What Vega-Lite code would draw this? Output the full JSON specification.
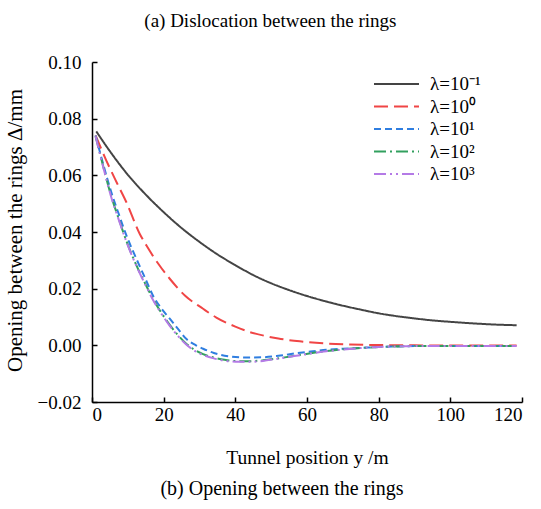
{
  "$schema": "https://vega.github.io/schema/vega-lite/v6.json",
  "padding": {"left": 4, "top": 12, "right": 5, "bottom": 5},
  "background": "white",
  "title": {"text": "(a) Dislocation between the rings", "font": "Liberation Serif", "fontSize": 19, "fontWeight": "normal", "color": "black", "anchor": "middle", "offset": 22, "dx": 7},
  "config": {
    "view": {"stroke": null}
  },
  "vconcat": [
    {
      "width": 430,
      "height": 340,
      "title": {"text": "(b) Opening between the rings", "orient": "bottom", "font": "Liberation Serif", "fontSize": 20, "fontWeight": "normal", "color": "black", "anchor": "middle", "dx": -25, "offset": 12},
      "data": {"values": [
        {"s": "λ=10⁻¹", "y": 1.2, "v": 0.0755}, {"s": "λ=10⁻¹", "y": 5, "v": 0.0685}, {"s": "λ=10⁻¹", "y": 10, "v": 0.0602}, {"s": "λ=10⁻¹", "y": 15, "v": 0.0532}, {"s": "λ=10⁻¹", "y": 20, "v": 0.047}, {"s": "λ=10⁻¹", "y": 25, "v": 0.0414}, {"s": "λ=10⁻¹", "y": 30, "v": 0.0365}, {"s": "λ=10⁻¹", "y": 35, "v": 0.0321}, {"s": "λ=10⁻¹", "y": 40, "v": 0.0283}, {"s": "λ=10⁻¹", "y": 45, "v": 0.0248}, {"s": "λ=10⁻¹", "y": 50, "v": 0.0219}, {"s": "λ=10⁻¹", "y": 55, "v": 0.0195}, {"s": "λ=10⁻¹", "y": 60, "v": 0.0174}, {"s": "λ=10⁻¹", "y": 65, "v": 0.0156}, {"s": "λ=10⁻¹", "y": 70, "v": 0.014}, {"s": "λ=10⁻¹", "y": 75, "v": 0.0126}, {"s": "λ=10⁻¹", "y": 80, "v": 0.0113}, {"s": "λ=10⁻¹", "y": 85, "v": 0.0103}, {"s": "λ=10⁻¹", "y": 90, "v": 0.0095}, {"s": "λ=10⁻¹", "y": 95, "v": 0.0088}, {"s": "λ=10⁻¹", "y": 100, "v": 0.0083}, {"s": "λ=10⁻¹", "y": 107, "v": 0.0077}, {"s": "λ=10⁻¹", "y": 113, "v": 0.0073}, {"s": "λ=10⁻¹", "y": 118.5, "v": 0.0071},
        {"s": "λ=10⁰", "y": 1, "v": 0.0741}, {"s": "λ=10⁰", "y": 4, "v": 0.0652}, {"s": "λ=10⁰", "y": 7, "v": 0.0572}, {"s": "λ=10⁰", "y": 9.6, "v": 0.0505}, {"s": "λ=10⁰", "y": 13.3, "v": 0.0394}, {"s": "λ=10⁰", "y": 15.2, "v": 0.0352}, {"s": "λ=10⁰", "y": 18.5, "v": 0.0288}, {"s": "λ=10⁰", "y": 21.7, "v": 0.0235}, {"s": "λ=10⁰", "y": 26, "v": 0.0175}, {"s": "λ=10⁰", "y": 31, "v": 0.0129}, {"s": "λ=10⁰", "y": 34.7, "v": 0.0098}, {"s": "λ=10⁰", "y": 40, "v": 0.0066}, {"s": "λ=10⁰", "y": 44, "v": 0.0047}, {"s": "λ=10⁰", "y": 48, "v": 0.0034}, {"s": "λ=10⁰", "y": 52, "v": 0.0024}, {"s": "λ=10⁰", "y": 58, "v": 0.0014}, {"s": "λ=10⁰", "y": 64.5, "v": 0.0007}, {"s": "λ=10⁰", "y": 72, "v": 0.0003}, {"s": "λ=10⁰", "y": 80, "v": 0.0001}, {"s": "λ=10⁰", "y": 90, "v": 0.0}, {"s": "λ=10⁰", "y": 100, "v": -0.0001}, {"s": "λ=10⁰", "y": 110, "v": -0.0001}, {"s": "λ=10⁰", "y": 118.5, "v": -0.0001},
        {"s": "λ=10¹", "y": 1, "v": 0.0741}, {"s": "λ=10¹", "y": 3, "v": 0.0645}, {"s": "λ=10¹", "y": 5.4, "v": 0.054}, {"s": "λ=10¹", "y": 7.5, "v": 0.0462}, {"s": "λ=10¹", "y": 9.6, "v": 0.0388}, {"s": "λ=10¹", "y": 12.4, "v": 0.0305}, {"s": "λ=10¹", "y": 15, "v": 0.0232}, {"s": "λ=10¹", "y": 17, "v": 0.0176}, {"s": "λ=10¹", "y": 19.5, "v": 0.0128}, {"s": "λ=10¹", "y": 21.7, "v": 0.0094}, {"s": "λ=10¹", "y": 24, "v": 0.0058}, {"s": "λ=10¹", "y": 26.3, "v": 0.0023}, {"s": "λ=10¹", "y": 29, "v": 0.0}, {"s": "λ=10¹", "y": 31, "v": -0.0012}, {"s": "λ=10¹", "y": 34, "v": -0.0027}, {"s": "λ=10¹", "y": 38.4, "v": -0.0039}, {"s": "λ=10¹", "y": 43, "v": -0.0043}, {"s": "λ=10¹", "y": 47.7, "v": -0.0042}, {"s": "λ=10¹", "y": 52, "v": -0.0037}, {"s": "λ=10¹", "y": 57, "v": -0.0028}, {"s": "λ=10¹", "y": 61, "v": -0.0022}, {"s": "λ=10¹", "y": 65.4, "v": -0.0016}, {"s": "λ=10¹", "y": 70, "v": -0.0012}, {"s": "λ=10¹", "y": 75, "v": -0.0009}, {"s": "λ=10¹", "y": 80, "v": -0.0006}, {"s": "λ=10¹", "y": 88, "v": -0.0003}, {"s": "λ=10¹", "y": 95, "v": -0.0002}, {"s": "λ=10¹", "y": 105, "v": -0.0002}, {"s": "λ=10¹", "y": 118.5, "v": -0.0002},
        {"s": "λ=10²", "y": 1, "v": 0.0738}, {"s": "λ=10²", "y": 3, "v": 0.0638}, {"s": "λ=10²", "y": 5.4, "v": 0.0525}, {"s": "λ=10²", "y": 7.5, "v": 0.0445}, {"s": "λ=10²", "y": 9.6, "v": 0.0368}, {"s": "λ=10²", "y": 12.4, "v": 0.0282}, {"s": "λ=10²", "y": 15, "v": 0.0214}, {"s": "λ=10²", "y": 17, "v": 0.0164}, {"s": "λ=10²", "y": 19.5, "v": 0.0112}, {"s": "λ=10²", "y": 21.7, "v": 0.0072}, {"s": "λ=10²", "y": 24, "v": 0.0036}, {"s": "λ=10²", "y": 26.3, "v": 0.0006}, {"s": "λ=10²", "y": 29, "v": -0.0019}, {"s": "λ=10²", "y": 31, "v": -0.0031}, {"s": "λ=10²", "y": 34, "v": -0.0043}, {"s": "λ=10²", "y": 37, "v": -0.0051}, {"s": "λ=10²", "y": 41, "v": -0.0056}, {"s": "λ=10²", "y": 44, "v": -0.0056}, {"s": "λ=10²", "y": 47.7, "v": -0.0053}, {"s": "λ=10²", "y": 51.4, "v": -0.0047}, {"s": "λ=10²", "y": 57, "v": -0.0036}, {"s": "λ=10²", "y": 61, "v": -0.0028}, {"s": "λ=10²", "y": 65.4, "v": -0.002}, {"s": "λ=10²", "y": 70, "v": -0.0014}, {"s": "λ=10²", "y": 75.6, "v": -0.0009}, {"s": "λ=10²", "y": 80, "v": -0.0006}, {"s": "λ=10²", "y": 88, "v": -0.0003}, {"s": "λ=10²", "y": 95, "v": -0.0002}, {"s": "λ=10²", "y": 105, "v": -0.0002}, {"s": "λ=10²", "y": 118.5, "v": -0.0002},
        {"s": "λ=10³", "y": 1, "v": 0.0738}, {"s": "λ=10³", "y": 3, "v": 0.0636}, {"s": "λ=10³", "y": 5.4, "v": 0.0522}, {"s": "λ=10³", "y": 7.5, "v": 0.0442}, {"s": "λ=10³", "y": 9.6, "v": 0.0366}, {"s": "λ=10³", "y": 12.4, "v": 0.028}, {"s": "λ=10³", "y": 15, "v": 0.0211}, {"s": "λ=10³", "y": 17, "v": 0.0161}, {"s": "λ=10³", "y": 19.5, "v": 0.0109}, {"s": "λ=10³", "y": 21.7, "v": 0.0069}, {"s": "λ=10³", "y": 24, "v": 0.0033}, {"s": "λ=10³", "y": 26.3, "v": 0.0003}, {"s": "λ=10³", "y": 29, "v": -0.0022}, {"s": "λ=10³", "y": 31, "v": -0.0034}, {"s": "λ=10³", "y": 34, "v": -0.0046}, {"s": "λ=10³", "y": 37, "v": -0.0054}, {"s": "λ=10³", "y": 41, "v": -0.0058}, {"s": "λ=10³", "y": 44, "v": -0.0058}, {"s": "λ=10³", "y": 47.7, "v": -0.0055}, {"s": "λ=10³", "y": 51.4, "v": -0.0048}, {"s": "λ=10³", "y": 57, "v": -0.0037}, {"s": "λ=10³", "y": 61, "v": -0.0029}, {"s": "λ=10³", "y": 65.4, "v": -0.0021}, {"s": "λ=10³", "y": 70, "v": -0.0015}, {"s": "λ=10³", "y": 75.6, "v": -0.0009}, {"s": "λ=10³", "y": 80, "v": -0.0006}, {"s": "λ=10³", "y": 88, "v": -0.0003}, {"s": "λ=10³", "y": 95, "v": -0.0002}, {"s": "λ=10³", "y": 105, "v": -0.0002}, {"s": "λ=10³", "y": 118.5, "v": -0.0002}
      ]},
      "mark": {"type": "line", "interpolate": "monotone", "strokeWidth": 2},
      "encoding": {
        "x": {"field": "y", "type": "quantitative", "scale": {"domain": [0, 120], "nice": false}, "axis": {"values": [0, 20, 40, 60, 80, 100, 120], "title": "Tunnel position y /m", "titlePadding": 24, "labelFont": "Liberation Serif", "labelFontSize": 19, "labelColor": "black", "titleFont": "Liberation Serif", "titleFontSize": 19.5, "titleFontWeight": "normal", "titleColor": "black", "domainColor": "black", "domainWidth": 1.5, "tickColor": "black", "tickWidth": 1.5, "tickSize": -5, "grid": false, "labelPadding": 8}},
        "y": {"field": "v", "type": "quantitative", "scale": {"domain": [-0.02, 0.1], "nice": false, "zero": false}, "axis": {"values": [-0.02, 0, 0.02, 0.04, 0.06, 0.08, 0.1], "format": ".2f", "title": "Opening between the rings Δ/mm", "titlePadding": 12, "titleY": 168, "labelFont": "Liberation Serif", "labelFontSize": 19, "labelColor": "black", "titleFont": "Liberation Serif", "titleFontSize": 21, "titleFontWeight": "normal", "titleColor": "black", "domainColor": "black", "domainWidth": 1.5, "tickColor": "black", "tickWidth": 1.5, "tickSize": -5, "grid": false, "labelPadding": 16}},
        "color": {"field": "s", "type": "nominal", "sort": ["λ=10⁻¹", "λ=10⁰", "λ=10¹", "λ=10²", "λ=10³"], "scale": {"domain": ["λ=10⁻¹", "λ=10⁰", "λ=10¹", "λ=10²", "λ=10³"], "range": ["#444444", "#f04545", "#2f7ee0", "#32a05e", "#b47ae6"]}, "legend": {"title": null, "orient": "none", "legendX": 281, "legendY": 12, "symbolType": "stroke", "symbolSize": 2025, "symbolStrokeWidth": 2, "labelOffset": 10, "clipHeight": 20, "rowPadding": 2.5, "labelFont": "Liberation Serif", "labelFontSize": 19, "labelColor": "black"}},
        "strokeDash": {"field": "s", "type": "nominal", "sort": ["λ=10⁻¹", "λ=10⁰", "λ=10¹", "λ=10²", "λ=10³"], "scale": {"domain": ["λ=10⁻¹", "λ=10⁰", "λ=10¹", "λ=10²", "λ=10³"], "range": [[1, 0], [14, 6], [7, 4], [12, 4, 2, 4], [12, 4, 2, 4, 2, 4]]}, "legend": {"title": null, "orient": "none", "legendX": 281, "legendY": 12, "symbolType": "stroke", "symbolSize": 2025, "symbolStrokeWidth": 2, "labelOffset": 10, "clipHeight": 20, "rowPadding": 2.5, "labelFont": "Liberation Serif", "labelFontSize": 19, "labelColor": "black"}},
        "order": {"field": "s", "sort": "ascending"}
      }
    }
  ]
}
